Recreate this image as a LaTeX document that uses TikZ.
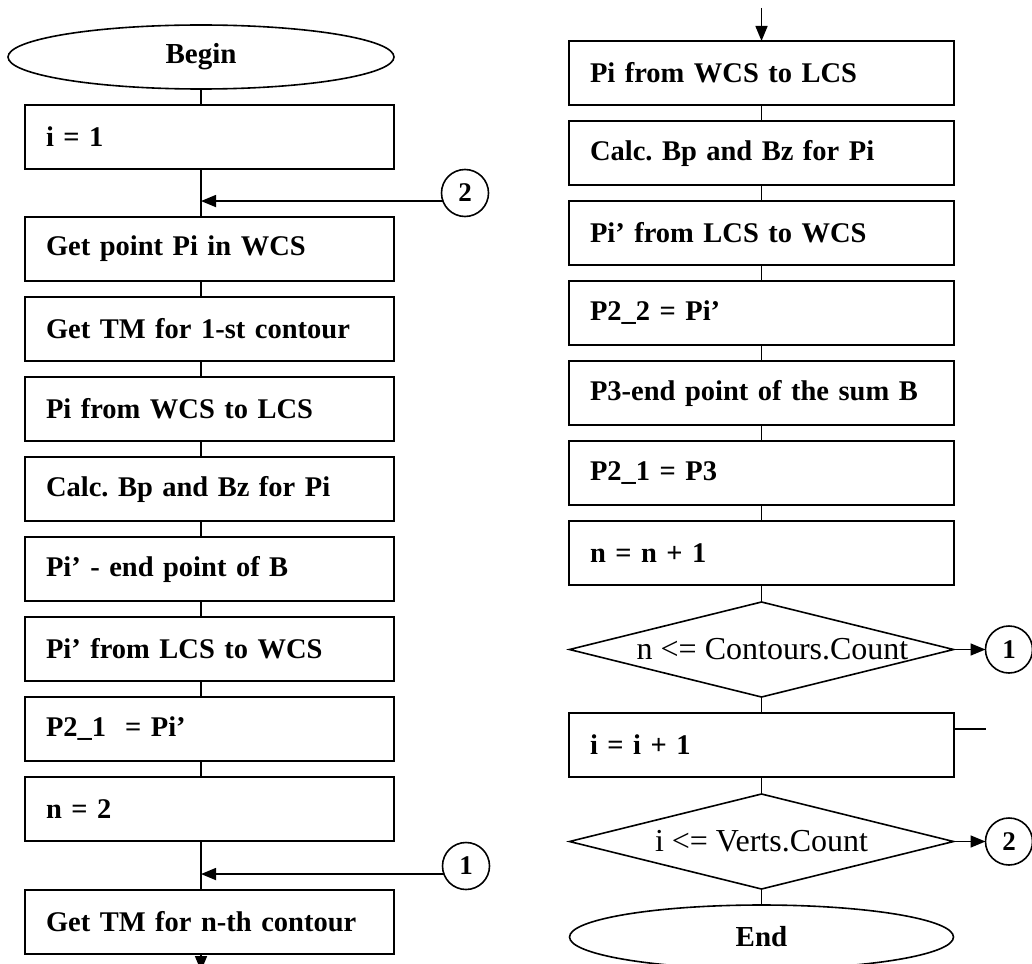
\documentclass[tikz,border=0pt]{standalone}
\usepackage{fontspec}
\setmainfont{Liberation Serif}
\usetikzlibrary{positioning,shapes.geometric,arrows.meta}
\frenchspacing

\begin{document}
\begin{tikzpicture}[
        x=1pt, y=1pt,
        node distance = 16pt,
        line width = 1.6pt,
        every node/.style = {outer sep=0pt},
        box/.style  = {draw, rectangle, text width=327pt, minimum height=64pt, inner xsep=21pt, inner ysep=0pt, align=left, font=\fontsize{28.5}{34}\selectfont\bfseries},
        term/.style = {draw, ellipse, minimum width=386pt, minimum height=64pt, inner sep=0pt, font=\fontsize{29}{34}\selectfont\bfseries},
        cond/.style = {draw, diamond, minimum width=384pt, minimum height=95pt, inner sep=0pt, font=\fontsize{32}{36}\selectfont},
        conn/.style = {draw, circle, minimum size=47pt, inner sep=0pt, font=\fontsize{27}{30}\selectfont\bfseries},
        arr/.style  = {-{Triangle[length=15pt,width=12pt]}}
    ]
        \clip (0,0) rectangle (1032,-963);
%
        \node[term] (n0) at (201,-57)           {Begin};
        \node[box, below=of n0, xshift=8.5pt] (n1) {i = 1};
        \node[box, below=48pt of n1] (n2)       {Get point Pi in WCS};
        \node[box, below=of n2] (n3)            {Get TM for 1-st contour};
        \node[box, below=of n3] (n4)            {Pi from WCS to LCS};
        \node[box, below=of n4] (n5)            {Calc. Bp and Bz for Pi};
        \node[box, below=of n5] (n6)            {Pi’ - end point of B};
        \node[box, below=of n6] (n7)            {Pi’ from LCS to WCS};
        \node[box, below=of n7] (n8)            {P2\_1\ \ = Pi’};
        \node[box, below=of n8] (n9)            {n = 2};
        \node[box, below=49pt of n9] (n10)      {Get TM for n-th contour};
        \coordinate[below=17pt of n10] (out);
%
        \node[conn] (c2) at (465,-193) {2};
        \node[conn] (c1) at (466,-866) {1};
%
        \coordinate (in) at (761.5,-8);
        \node[box, text width=343pt, below=33pt of in] (m1) {Pi from WCS to LCS};
        \node[box, text width=343pt, below=of m1] (m2)      {Calc. Bp and Bz for Pi};
        \node[box, text width=343pt, below=of m2] (m3)      {Pi’ from LCS to WCS};
        \node[box, text width=343pt, below=of m3] (m4)      {P2\_2 = Pi’};
        \node[box, text width=343pt, below=of m4] (m5)      {P3-end point of the sum B};
        \node[box, text width=343pt, below=of m5] (m6)      {P2\_1 = P3};
        \node[box, text width=343pt, below=of m6] (m7)      {n = n + 1};
        \node[cond, below=17pt of m7] (m8)                  {\makebox[0pt]{\hspace*{22pt}n <= Contours.Count}};
        \node[box, text width=343pt, below=of m8] (m9)      {i = i + 1};
        \node[cond, below=17pt of m9] (m10)                 {\makebox[0pt]{i <= Verts.Count}};
        \node[term, minimum width=384pt, below=of m10] (m11) {End};
%
        \node[conn, right=32pt of m8] (d1)  {1};
        \node[conn, right=32pt of m10] (d2) {2};
        \coordinate[above right=16pt and 32pt of m9.east] (stub);
%
        \draw (n0.south) -- (n0.south |- n1.north);
        \draw (n1.south -| n0.south) -- (n2.north -| n0.south);
        \draw (n2.south -| n0.south) -- (n3.north -| n0.south);
        \draw (n3.south -| n0.south) -- (n4.north -| n0.south);
        \draw (n4.south -| n0.south) -- (n5.north -| n0.south);
        \draw (n5.south -| n0.south) -- (n6.north -| n0.south);
        \draw (n6.south -| n0.south) -- (n7.north -| n0.south);
        \draw (n7.south -| n0.south) -- (n8.north -| n0.south);
        \draw (n8.south -| n0.south) -- (n9.north -| n0.south);
        \draw (n9.south -| n0.south) -- (n10.north -| n0.south);
        \draw[arr] (n10.south -| n0.south) -- (out -| n0.south);
        \draw[arr] (c2.200) -- (c2.200 -| n0.south);
        \draw[arr] (c1.200) -- (c1.200 -| n0.south);
%
        \draw[arr] (in) -- (m1);
        \draw (m1) -- (m2);
        \draw (m2) -- (m3);
        \draw (m3) -- (m4);
        \draw (m4) -- (m5);
        \draw (m5) -- (m6);
        \draw (m6) -- (m7);
        \draw (m7) -- (m8);
        \draw (m8) -- (m9);
        \draw (m9) -- (m10);
        \draw (m10) -- (m11);
        \draw[arr] (m8) -- (d1);
        \draw[arr] (m10) -- (d2);
        \draw (stub -| m9.east) -- (stub);
    \end{tikzpicture}
\end{document}
